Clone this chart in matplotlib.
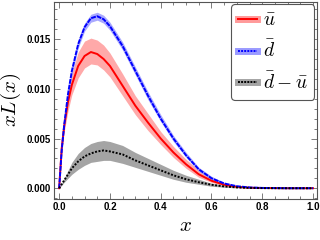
import matplotlib
matplotlib.use("Agg")
import matplotlib.pyplot as plt
from matplotlib.lines import Line2D
from matplotlib.ticker import MultipleLocator, FormatStrFormatter

plt.rcParams["mathtext.fontset"] = "cm"

# values
x = [0.0, 0.01, 0.02, 0.035, 0.05, 0.075, 0.1, 0.125, 0.15, 0.175, 0.2, 0.25,
     0.3, 0.35, 0.4, 0.45, 0.5, 0.55, 0.6, 0.65, 0.7, 0.75, 0.8, 0.9, 1.0]

ubar = [0.0, 0.0040, 0.0063, 0.0087, 0.0104, 0.0123, 0.0133, 0.0137, 0.0135, 0.0130,
        0.0123, 0.0103, 0.0083, 0.0066, 0.0050, 0.0036, 0.0024, 0.0014, 0.00075,
        0.00035, 0.00014, 0.00005, 0.00002, 0.0, 0.0]
ubar_lo = [0.0, 0.0036, 0.0057, 0.0078, 0.0094, 0.0111, 0.0121, 0.0125, 0.0124, 0.0119,
           0.0112, 0.0093, 0.0074, 0.0058, 0.0044, 0.0031, 0.0020, 0.0011, 0.00058,
           0.00026, 0.0001, 0.00003, 0.00001, 0.0, 0.0]
ubar_hi = [0.0, 0.0045, 0.0070, 0.0097, 0.0116, 0.0137, 0.0148, 0.0151, 0.0149, 0.0144,
           0.0136, 0.0115, 0.0093, 0.0075, 0.0057, 0.0042, 0.0029, 0.0018, 0.00095,
           0.00046, 0.0002, 0.00008, 0.00003, 0.0, 0.0]

dbar = [0.0, 0.0038, 0.0064, 0.0095, 0.0118, 0.0145, 0.0162, 0.0171, 0.0173, 0.0170,
        0.0163, 0.0143, 0.0118, 0.0093, 0.0070, 0.0050, 0.0033, 0.0019, 0.0010,
        0.00048, 0.0002, 0.00008, 0.00003, 0.0, 0.0]
dbar_lo = [0.0, 0.0036, 0.0061, 0.0091, 0.0114, 0.0141, 0.0158, 0.0167, 0.0169, 0.0166,
           0.0159, 0.0139, 0.0114, 0.0089, 0.0067, 0.0047, 0.0031, 0.0017, 0.0009,
           0.0004, 0.00016, 0.00006, 0.00002, 0.0, 0.0]
dbar_hi = [0.0, 0.0040, 0.0067, 0.0099, 0.0122, 0.0149, 0.0166, 0.0175, 0.0177, 0.0174,
           0.0167, 0.0147, 0.0122, 0.0097, 0.0074, 0.0053, 0.0036, 0.0021, 0.0012,
           0.00056, 0.00025, 0.0001, 0.00004, 0.0, 0.0]

diff = [0.0, 0.0004, 0.0008, 0.0014, 0.0020, 0.0027, 0.0032, 0.0035, 0.0037, 0.0038,
        0.0037, 0.0034, 0.0028, 0.0023, 0.0018, 0.0013, 0.0009, 0.0006, 0.00035,
        0.00018, 0.00008, 0.00003, 0.00001, 0.0, 0.0]
diff_lo = [0.0, 0.0003, 0.0006, 0.0010, 0.0014, 0.0019, 0.0023, 0.0026, 0.0027, 0.0028,
           0.0028, 0.0025, 0.0021, 0.0017, 0.0013, 0.0009, 0.0006, 0.0004, 0.0002,
           0.0001, 0.00004, 0.00001, 0.0, 0.0, 0.0]
diff_hi = [0.0, 0.0005, 0.0010, 0.0018, 0.0026, 0.0035, 0.0041, 0.0045, 0.0047, 0.0048,
           0.0047, 0.0043, 0.0036, 0.0030, 0.0024, 0.0018, 0.0013, 0.0009, 0.0005,
           0.00028, 0.00013, 0.00005, 0.00002, 0.0, 0.0]

fig = plt.figure(figsize=(3.2, 2.4), dpi=100)
ax = fig.add_axes([0.169, 0.171, 0.822, 0.821])

ax.fill_between(x, ubar_lo, ubar_hi, color="#ff9a9a", lw=0, alpha=0.85)
ax.fill_between(x, dbar_lo, dbar_hi, color="#9a9aff", lw=0, alpha=0.85)
ax.fill_between(x, diff_lo, diff_hi, color="#a4a4a4", lw=0)
ax.plot(x, ubar, color="red", lw=1.4)
ax.plot(x, dbar, color="blue", lw=1.4, dashes=(2.5, 0.5))
ax.plot(x, diff, color="black", lw=1.4, dashes=(1.0, 0.8))

ax.set_xlim(-0.02, 1.016)
ax.set_ylim(-0.00108, 0.01874)
ax.xaxis.set_major_locator(MultipleLocator(0.2))
ax.xaxis.set_minor_locator(MultipleLocator(0.05))
ax.yaxis.set_major_locator(MultipleLocator(0.005))
ax.yaxis.set_minor_locator(MultipleLocator(0.001))
ax.xaxis.set_major_formatter(FormatStrFormatter("%.1f"))
ax.yaxis.set_major_formatter(FormatStrFormatter("%.3f"))
ax.tick_params(which="both", direction="in", top=True, right=True, colors="#666666",
               labelcolor="black", width=0.6)
ax.tick_params(which="major", length=4, pad=2)
ax.tick_params(which="minor", length=2)
for lab in ax.get_xticklabels() + ax.get_yticklabels():
    lab.set_fontfamily("Liberation Sans")
    lab.set_fontweight("bold")
    lab.set_fontsize(7)
for sp in ax.spines.values():
    sp.set_color("#555555")
    sp.set_linewidth(0.8)

ax.set_xlabel("$x$", fontsize=15, labelpad=2)
ax.set_ylabel("$xL(x)$", fontsize=15, labelpad=3)

h_u = (Line2D([], [], color="#ff9a9a", lw=5), Line2D([], [], color="red", lw=1.4))
h_d = (Line2D([], [], color="#9a9aff", lw=5), Line2D([], [], color="blue", lw=1.4, dashes=(1.0, 0.6)))
h_diff = (Line2D([], [], color="#a4a4a4", lw=5), Line2D([], [], color="black", lw=1.4, dashes=(1.0, 0.6)))
leg = ax.legend([h_u, h_d, h_diff], [r"$\bar{u}$", r"$\bar{d}$", r"$\bar{d}-\bar{u}$"],
                loc="upper right", bbox_to_anchor=(0.99, 0.99), fontsize=14,
                handlelength=1.0, handletextpad=0.3, labelspacing=0.55, borderpad=0.35,
                borderaxespad=0.0, fancybox=True, framealpha=1.0)
leg.get_frame().set_edgecolor("#555555")
leg.get_frame().set_linewidth(0.8)

fig.savefig("out.png", dpi=100)
